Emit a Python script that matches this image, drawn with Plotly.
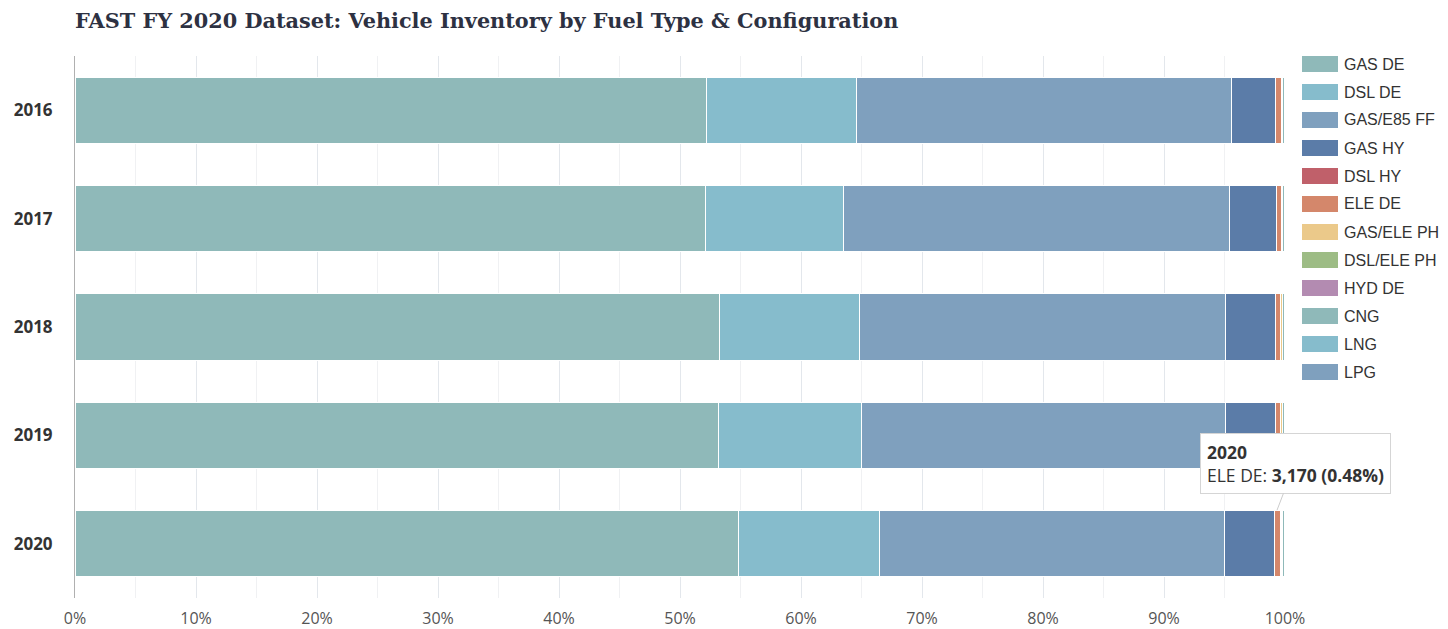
import plotly.graph_objects as go

# ---- data (percent share of inventory) ----
years = ["2016", "2017", "2018", "2019", "2020"]
fuel_types = ["GAS DE", "DSL DE", "GAS/E85 FF", "GAS HY", "DSL HY", "ELE DE",
              "GAS/ELE PH", "DSL/ELE PH", "HYD DE", "CNG", "LNG", "LPG"]
colors = ["#8fb9b9", "#86bccc", "#7fa0be", "#5b7ca8", "#c0606a", "#d4876b",
          "#ebc98a", "#9dbc85", "#b38bb1", "#8fb9b9", "#86bccc", "#7fa0be"]

gas_de      = [52.2, 52.1, 53.3, 53.2, 54.8]
dsl_de      = [12.4, 11.4, 11.5, 11.8, 11.7]
gas_e85_ff  = [31.0, 31.9, 30.3, 30.1, 28.5]
gas_hy      = [3.6, 3.9, 4.1, 4.1, 4.1]
dsl_hy      = [0.01, 0.01, 0.01, 0.01, 0.01]
ele_de      = [0.50, 0.40, 0.45, 0.45, 0.48]
gas_ele_ph  = [0.08, 0.10, 0.12, 0.12, 0.15]
dsl_ele_ph  = [0.01, 0.01, 0.01, 0.01, 0.01]
hyd_de      = [0.01, 0.01, 0.01, 0.01, 0.01]
cng         = [0.15, 0.15, 0.18, 0.18, 0.22]
lng         = [0.01, 0.01, 0.01, 0.01, 0.01]
lpg         = [0.03, 0.02, 0.02, 0.02, 0.02]

series = [gas_de, dsl_de, gas_e85_ff, gas_hy, dsl_hy, ele_de,
          gas_ele_ph, dsl_ele_ph, hyd_de, cng, lng, lpg]

# browser body margin offsets the figure by 8px
OFF = 8
W, H = 1448 - OFF, 629 - OFF
L, R, T, B = 75 - OFF, 1448 - 1285, 56 - OFF, 629 - 598
PW, PH = W - L - R, H - T - B


def px_x(px):
    return (px - OFF - L) / PW


def px_y(py):
    return (H - B - (py - OFF)) / PH


fig = go.Figure()
for name, vals, col in zip(fuel_types, series, colors):
    fig.add_trace(go.Bar(
        y=years, x=vals, name=name, orientation="h",
        marker=dict(color=col, line=dict(color="white", width=1)),
        showlegend=False,
    ))

# custom legend (large swatches)
shapes = []
annotations = []
for i, (name, col) in enumerate(zip(fuel_types, colors)):
    cy = 64 + i * 28
    shapes.append(dict(type="rect", xref="paper", yref="paper",
                       x0=px_x(1302), x1=px_x(1338),
                       y0=px_y(cy + 8), y1=px_y(cy - 8),
                       fillcolor=col, line=dict(width=0), layer="above"))
    annotations.append(dict(xref="paper", yref="paper", x=px_x(1342), y=px_y(cy),
                            text=name, showarrow=False, xanchor="left", yanchor="middle",
                            font=dict(family="Liberation Sans, Arial", size=16, color="#333")))

# tooltip-like callout
annotations.append(dict(
    x=99.34, y=3.69, xref="x", yref="y",
    text="<b>2020</b><br>ELE DE: <b>3,170 (0.48%)</b>",
    showarrow=True, arrowhead=0, arrowcolor="#cccccc", arrowwidth=1,
    ax=18, ay=-47, align="left",
    bgcolor="white", bordercolor="#d5d5d5", borderwidth=1, borderpad=6,
    font=dict(family="Open Sans, Noto Sans", size=17.5, color="#333"),
))

fig.update_layout(
    width=W, height=H,
    barmode="stack", bargap=0.39,
    margin=dict(l=L, r=R, t=T, b=B, pad=0, autoexpand=False),
    plot_bgcolor="white", paper_bgcolor="white",
    title=dict(text="<b>FAST FY 2020 Dataset: Vehicle Inventory by Fuel Type &amp; Configuration</b>",
               x=L / W, xanchor="left", y=1 - (21 - OFF) / H, yanchor="middle",
               font=dict(family="DejaVu Serif", size=20.8, color="#2d3142")),
    shapes=shapes, annotations=annotations,
    showlegend=False,
)
fig.update_xaxes(
    range=[0, 100], dtick=10, ticksuffix="%", showgrid=True, gridcolor="#e3e7ec",
    minor=dict(dtick=5, showgrid=True, gridcolor="#f0f1f3"),
    zeroline=False, ticks="", ticklabelstandoff=9, automargin=False,
    tickfont=dict(family="Open Sans, Noto Sans", size=16, color="#555"),
)
fig.update_yaxes(
    categoryorder="array", categoryarray=years, autorange="reversed",
    showline=True, linecolor="#b0b0b0", linewidth=1, ticks="", ticklabelstandoff=18,
    automargin=False,
    tickfont=dict(family="Open Sans, Noto Sans", size=17, color="#333", weight="bold"),
)

fig.write_html("out.html")
